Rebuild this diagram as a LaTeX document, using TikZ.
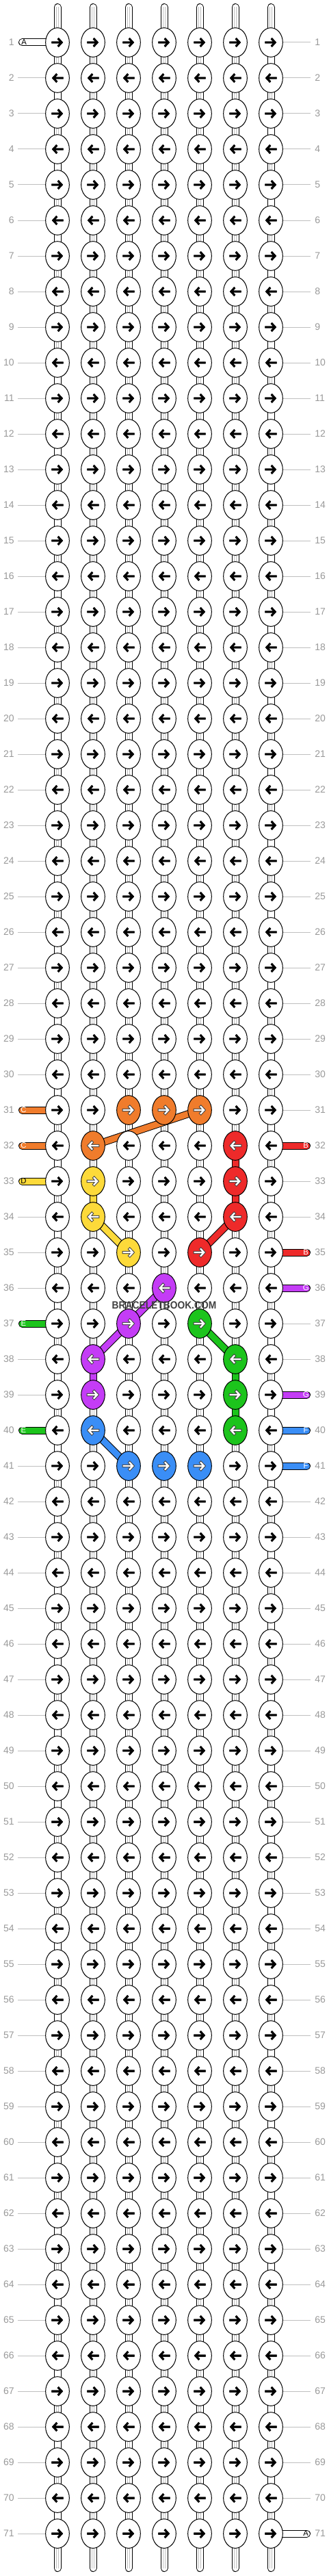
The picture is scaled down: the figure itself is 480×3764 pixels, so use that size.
\documentclass[tikz,border=0pt]{standalone}
\usepackage{fontspec}
\setmainfont{Liberation Sans}
\usepackage{tikz}
\usetikzlibrary{shapes.geometric, arrows.meta, backgrounds}
\definecolor{threadB}{RGB}{238,42,42}
\definecolor{threadC}{RGB}{240,124,44}
\definecolor{threadD}{RGB}{253,218,58}
\definecolor{threadE}{RGB}{28,196,28}
\definecolor{threadF}{RGB}{58,142,246}
\definecolor{threadG}{RGB}{196,60,246}
\tikzset{
  knot ink/.store in=\knotink, knot ink=black,
  knot rim/.store in=\knotrim, knot rim=black,
  rim width/.store in=\knotrimwidth, rim width=2.2pt,
  ink width/.store in=\knotinkwidth, ink width=2.2pt,
  knot/.style = {shape=ellipse, draw, line width=0.75pt, fill=white,
                 minimum width=26pt, minimum height=32pt, inner sep=0pt},
  fwd/.style = {path picture={
      \coordinate (mid) at (path picture bounding box.center);
      \draw [draw=\knotrim, line width=\knotrimwidth, line cap=rect]
        ([xshift=-5.3pt]mid) -- ([xshift=4.2pt]mid)
        ([xshift=1.3pt,yshift=-3.6pt]mid) -- ([xshift=4.6pt]mid) -- ([xshift=1.3pt,yshift=3.6pt]mid);
      \draw [draw=\knotink, line width=\knotinkwidth, line cap=rect]
        ([xshift=-5.3pt]mid) -- ([xshift=4.2pt]mid)
        ([xshift=1.3pt,yshift=-3.6pt]mid) -- ([xshift=4.6pt]mid) -- ([xshift=1.3pt,yshift=3.6pt]mid);}},
  bwd/.style = {path picture={
      \coordinate (mid) at (path picture bounding box.center);
      \draw [draw=\knotrim, line width=\knotrimwidth, line cap=rect]
        ([xshift=5.3pt]mid) -- ([xshift=-4.2pt]mid)
        ([xshift=-1.3pt,yshift=-3.6pt]mid) -- ([xshift=-4.6pt]mid) -- ([xshift=-1.3pt,yshift=3.6pt]mid);
      \draw [draw=\knotink, line width=\knotinkwidth, line cap=rect]
        ([xshift=5.3pt]mid) -- ([xshift=-4.2pt]mid)
        ([xshift=-1.3pt,yshift=-3.6pt]mid) -- ([xshift=-4.6pt]mid) -- ([xshift=-1.3pt,yshift=3.6pt]mid);}},
  light/.style = {knot ink=white, knot rim=black!75, rim width=3.3pt, ink width=1.8pt},
  tint/.style = {fill=#1, light},
  band/.style = {line width=0.75pt, double=#1, double distance=6.75pt},
  strand/.style = {band=white},
  tail/.style = {band=#1, line cap=round},
  pair/.style = {draw=black!25, line width=0.45pt, double=white, double distance=1.6pt},
  guide/.style = {draw=black!25, line width=0.75pt},
  rowno/.style = {text=black!40, font=\fontsize{10.5}{12}\selectfont, inner sep=0pt},
  tag/.style = {font=\fontsize{8.5}{10}\selectfont, inner sep=0pt},
  watermark/.style = {text=black!75, font=\bfseries\fontsize{11.5}{12}\selectfont, inner sep=0pt},
  paint 31-3/.style = {tint=threadC},
  paint 31-4/.style = {tint=threadC},
  paint 31-5/.style = {tint=threadC},
  paint 32-2/.style = {tint=threadC},
  paint 33-2/.style = {tint=threadD},
  paint 34-2/.style = {tint=threadD},
  paint 35-3/.style = {tint=threadD},
  paint 32-6/.style = {tint=threadB},
  paint 33-6/.style = {tint=threadB},
  paint 34-6/.style = {tint=threadB},
  paint 35-5/.style = {tint=threadB},
  paint 36-4/.style = {tint=threadG},
  paint 37-3/.style = {tint=threadG},
  paint 38-2/.style = {tint=threadG},
  paint 39-2/.style = {tint=threadG},
  paint 37-5/.style = {tint=threadE},
  paint 38-6/.style = {tint=threadE},
  paint 39-6/.style = {tint=threadE},
  paint 40-6/.style = {tint=threadE},
  paint 40-2/.style = {tint=threadF},
  paint 41-3/.style = {tint=threadF},
  paint 41-4/.style = {tint=threadF},
  paint 41-5/.style = {tint=threadF}
}
\begin{document}
\begin{tikzpicture}[x=0.75pt, y=-0.75pt]
            \useasboundingbox (0,0) rectangle (480,3764);
            \foreach \r in {1,...,71} {
                \pgfmathtruncatemacro{\turn}{mod(\r,2)}
                \ifnum\turn=1 \def\way{fwd}\else\def\way{bwd}\fi
                \foreach \c in {1,...,7}
                    \node (k-\r-\c) [knot, \way, paint \r-\c/.try] at ({32+52*\c},{10+52*\r}) {};
                \node (nl-\r) [rowno, anchor=east] at (21,{10+52*\r}) {\r};
                \node (nr-\r) [rowno, anchor=west] at (460,{10+52*\r}) {\r};
            }

            \coordinate (tail-l1) at (32.5,62);
            \coordinate (tail-l31) at (32.5,1622);
            \coordinate (tail-l32) at (32.5,1674);
            \coordinate (tail-l33) at (32.5,1726);
            \coordinate (tail-l37) at (32.5,1934);
            \coordinate (tail-l40) at (32.5,2090);
            \coordinate (tail-r32) at (448.5,1674);
            \coordinate (tail-r35) at (448.5,1830);
            \coordinate (tail-r36) at (448.5,1882);
            \coordinate (tail-r39) at (448.5,2038);
            \coordinate (tail-r40) at (448.5,2090);
            \coordinate (tail-r41) at (448.5,2142);
            \coordinate (tail-r71) at (448.5,3702);

            \begin{scope}[on background layer]
                \foreach \r in {1,...,71}
                    \foreach \c [evaluate=\c as \d using int(\c+1)] in {1,...,6}
                        \draw [strand] (k-\r-\c.center) -- (k-\r-\d.center);
                \foreach \r [evaluate=\r as \s using int(\r+1)] in {1,...,70} {
                    \pgfmathtruncatemacro{\edge}{mod(\r,2)==1 ? 7 : 1}
                    \foreach \c in {1,...,7} {
                        \draw [strand] (k-\r-\c.center) -- (k-\s-\c.center);
                        \ifnum\c=\edge\else
                            \draw [pair] (k-\r-\c.center) -- (k-\s-\c.center);
                        \fi
                    }
                }
                \foreach \c in {1,...,7} {
                    \coordinate (top-\c) at ({32+52*\c},10.5);
                    \coordinate (end-\c) at ({32+52*\c},3752.5);
                    \draw [strand, line cap=round] (top-\c) -- (k-1-\c.center);
                    \draw [pair] (top-\c) -- (k-1-\c.center);
                    \draw [strand, line cap=round] (k-71-\c.center) -- (end-\c);
                    \draw [pair] (k-71-\c.center) -- (end-\c);
                }
                \foreach \r in {2,3,...,30,34,35,36,38,39,41,42,...,71}
                    \draw [guide] (26,{10+52*\r}) -- (k-\r-1.west);
                \foreach \r in {1,2,...,31,33,34,37,38,42,43,...,70}
                    \draw [guide] (k-\r-7.east) -- (454,{10+52*\r});

                \draw [band=threadC] (k-32-2.center) -- (k-31-5.center);
                \draw [band=threadD] (k-33-2.center) -- (k-34-2.center);
                \draw [band=threadD] (k-34-2.center) -- (k-35-3.center);
                \draw [band=threadB] (k-32-6.center) -- (k-33-6.center);
                \draw [band=threadB] (k-33-6.center) -- (k-34-6.center);
                \draw [band=threadB] (k-34-6.center) -- (k-35-5.center);
                \draw [band=threadG] (k-36-4.center) -- (k-37-3.center);
                \draw [band=threadG] (k-37-3.center) -- (k-38-2.center);
                \draw [band=threadG] (k-38-2.center) -- (k-39-2.center);
                \draw [band=threadE] (k-37-5.center) -- (k-38-6.center);
                \draw [band=threadE] (k-38-6.center) -- (k-39-6.center);
                \draw [band=threadE] (k-39-6.center) -- (k-40-6.center);
                \draw [band=threadF] (k-40-2.center) -- (k-41-3.center);

                \draw [tail=white] (tail-l1) -- (k-1-1.center);
                \draw [tail=threadC] (tail-l31) -- (k-31-1.center);
                \draw [tail=threadC] (tail-l32) -- (k-32-1.center);
                \draw [tail=threadD] (tail-l33) -- (k-33-1.center);
                \draw [tail=threadE] (tail-l37) -- (k-37-1.center);
                \draw [tail=threadE] (tail-l40) -- (k-40-1.center);
                \draw [tail=threadB] (k-32-7.center) -- (tail-r32);
                \draw [tail=threadB] (k-35-7.center) -- (tail-r35);
                \draw [tail=threadG] (k-36-7.center) -- (tail-r36);
                \draw [tail=threadG] (k-39-7.center) -- (tail-r39);
                \draw [tail=threadF] (k-40-7.center) -- (tail-r40);
                \draw [tail=threadF] (k-41-7.center) -- (tail-r41);
                \draw [tail=white] (k-71-7.center) -- (tail-r71);
            \end{scope}

            \node (tag-l1) [tag] at ([xshift=2pt]tail-l1) {A};
            \node (tag-l31) [tag, text=white] at ([xshift=1.5pt]tail-l31) {C};
            \node (tag-l32) [tag, text=white] at ([xshift=1.5pt]tail-l32) {C};
            \node (tag-l33) [tag] at ([xshift=1.5pt]tail-l33) {D};
            \node (tag-l37) [tag, text=white] at ([xshift=1.5pt]tail-l37) {E};
            \node (tag-l40) [tag, text=white] at ([xshift=1.5pt]tail-l40) {E};
            \node (tag-r32) [tag, text=white] at ([xshift=-1pt]tail-r32) {B};
            \node (tag-r35) [tag, text=white] at ([xshift=-1pt]tail-r35) {B};
            \node (tag-r36) [tag, text=white] at ([xshift=-1pt]tail-r36) {G};
            \node (tag-r39) [tag, text=white] at ([xshift=-1pt]tail-r39) {G};
            \node (tag-r40) [tag, text=white] at ([xshift=-1pt]tail-r40) {F};
            \node (tag-r41) [tag, text=white] at ([xshift=-1pt]tail-r41) {F};
            \node (tag-r71) [tag] at ([xshift=-1pt]tail-r71) {A};

            \node (mark) [watermark] at (240,1907) {\scalebox{0.9}[1]{BRACELETBOOK.COM}};
        \end{tikzpicture}
\end{document}
